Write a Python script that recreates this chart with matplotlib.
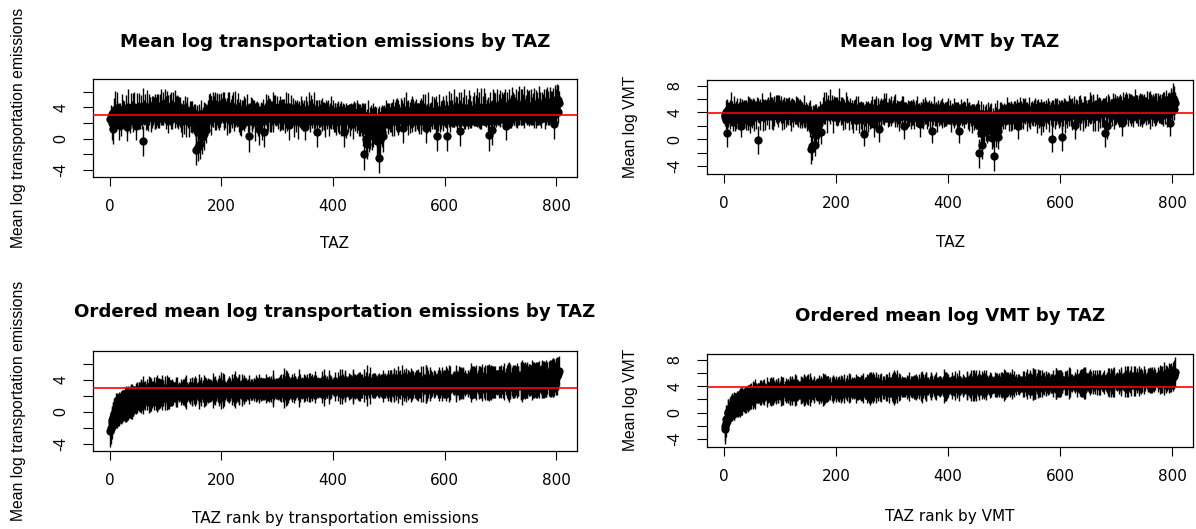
import numpy as np
import matplotlib
matplotlib.use("Agg")
import matplotlib.pyplot as plt

plt.rcParams['font.family'] = ['DejaVu Sans']

# mean log transportation emissions by TAZ (TAZ 1..805)
emis_mean = np.array("""
2.5 2.7 3.2 2.0 2.9 1.3 3.4 2.5 3.7 3.0 2.2 3.3 3.9 2.6 3.1 1.7 3.6 2.8 1.9 3.2 3.5 2.7 3.8 3.0 2.5
3.4 2.6 3.7 2.9 2.3 1.5 3.2 4.0 2.8 3.5 2.4 3.1 3.8 2.7 3.3 3.6 2.2 3.0 4.1 2.8 3.4 1.6 3.2 3.7 2.9
3.6 2.9 4.0 2.5 3.3 3.7 2.7 3.1 4.2 -0.3 3.4 2.8 3.8 2.4 3.5 3.0 4.1 3.2 2.6 3.7 3.3 3.9 2.8 3.4 3.1
3.8 3.1 3.6 4.3 2.7 3.5 4.0 3.2 3.7 2.9 4.2 3.4 2.6 3.9 3.3 3.6 4.1 3.0 3.5 3.8 2.8 3.7 4.4 3.2 3.4
3.5 3.9 3.0 2.4 3.7 3.3 4.1 2.8 3.6 3.8 3.1 2.7 4.0 3.4 3.2 4.2 2.9 3.5 3.7 2.6 3.9 3.3 3.0 3.8 3.4
3.2 2.6 3.5 2.8 2.3 3.7 3.1 2.5 3.4 3.8 2.9 2.4 3.3 3.6 2.7 3.0 2.1 3.4 3.2 2.5 2.8 3.6 2.2 2.9 2.4
2.8 2.2 3.1 1.3 -1.4 2.6 1.0 -1.0 2.9 2.0 0.7 -0.7 2.4 3.2 0.2 1.8 2.7 0.6 3.0 1.4 3.3 2.5 1.1 2.2 3.1
3.1 3.6 2.7 3.9 3.4 3.0 4.2 3.3 2.6 3.7 4.0 3.2 3.5 4.4 2.9 3.6 3.8 3.1 2.5 4.1 3.4 3.7 3.0 3.9 3.3
3.7 3.2 4.0 2.8 3.5 4.2 3.1 3.6 2.7 3.8 3.4 4.1 2.9 3.3 3.7 2.4 3.9 3.5 3.0 3.6 4.0 3.2 2.6 3.4 3.8
2.9 3.4 2.5 3.7 3.1 2.3 3.6 2.8 3.3 2.0 3.5 3.0 2.7 3.8 3.2 2.4 2.9 3.4 2.6 3.7 3.1 2.2 3.3 2.8 0.3
3.2 2.7 3.5 2.3 3.0 3.6 2.5 3.3 2.8 2.1 3.4 2.9 2.6 3.7 3.1 2.4 3.2 1.2 2.8 3.5 2.7 3.3 2.2 3.0 3.6
2.9 0.9 3.4 3.7 3.1 2.6 3.9 3.3 2.8 3.6 4.1 3.0 3.5 2.7 3.8 3.2 3.4 2.5 4.0 3.1 3.7 2.9 3.3 3.8 3.0
3.4 2.8 3.7 3.2 2.5 3.6 3.0 3.9 2.7 3.3 3.1 3.8 2.4 3.5 2.9 3.7 3.2 2.6 3.4 4.0 1.8 3.3 3.0 2.7 3.5
3.1 2.6 3.5 2.9 2.3 3.3 3.7 2.8 2.5 3.4 3.0 2.2 3.6 3.2 2.7 2.9 3.4 2.4 3.1 3.7 2.8 2.6 3.3 3.0 1.5
3.2 3.6 2.7 3.3 2.9 3.8 3.1 2.5 3.5 3.0 3.7 2.6 3.4 3.2 2.8 3.6 2.9 2.4 3.3 3.1 0.8 3.5 2.8 3.2 3.7
3.0 2.5 3.4 2.8 3.2 2.3 3.6 2.9 2.7 3.3 2.4 3.1 3.5 2.6 3.0 3.7 2.8 2.2 3.2 2.9 2.5 3.4 3.1 2.7 3.3
2.9 2.4 3.2 2.7 3.0 2.1 3.4 2.8 2.5 3.1 2.3 3.3 2.9 2.6 3.2 2.7 3.5 2.4 0.9 3.0 2.8 2.5 3.3 2.2 3.1
3.0 2.6 3.3 2.8 2.4 3.2 2.7 3.5 2.9 2.3 3.1 3.4 2.5 2.8 3.2 2.6 3.0 2.2 3.3 2.7 2.9 2.4 3.1 2.0 2.6
2.8 2.3 3.0 1.3 2.6 -2.0 1.1 2.9 0.0 2.1 -0.7 2.7 0.7 1.8 0.3 2.5 0.9 2.9 0.5 2.2 3.0 1.0 2.5 1.9 2.8
1.9 2.6 -0.3 0.8 2.3 0.2 -2.4 2.8 1.1 -0.1 2.4 3.0 0.9 0.4 2.7 2.1 3.1 2.4 2.8 3.2 2.7 3.1 2.5 3.3 2.9
2.9 2.4 3.2 2.7 3.4 2.5 3.0 3.6 2.3 2.8 3.3 2.6 3.1 2.2 3.5 2.9 2.7 3.2 2.4 3.0 3.4 2.6 2.8 3.3 1.4
3.1 2.6 3.4 2.8 3.7 2.5 3.2 2.9 2.3 3.5 3.0 2.7 3.3 3.6 2.4 3.1 2.8 3.4 2.6 3.2 2.9 2.2 3.5 3.0 2.7
3.3 2.8 3.5 2.6 3.2 3.7 2.9 2.5 3.4 3.1 3.8 2.7 3.0 3.6 3.3 1.4 2.9 3.4 2.4 3.2 3.7 2.8 3.1 2.6 3.5
3.1 2.7 3.4 2.9 3.6 2.5 3.2 2.8 3.3 3.0 0.3 3.5 2.6 3.1 3.7 2.8 2.4 3.3 3.0 3.6 2.7 3.2 2.9 3.4 2.8
3.2 3.6 2.7 0.3 3.3 2.9 3.8 3.1 2.6 3.5 3.0 3.7 2.8 3.3 2.5 3.4 3.9 3.0 3.2 2.7 3.6 2.9 3.3 3.1 3.7
3.0 1.0 3.4 2.8 3.7 3.2 2.6 3.5 2.9 3.8 3.1 2.7 3.3 3.6 3.0 2.5 3.4 3.9 2.8 3.2 3.5 2.7 3.3 3.0 3.6
3.4 3.0 3.8 3.2 2.7 3.6 3.3 4.0 2.9 3.5 3.1 3.7 2.6 3.4 3.9 3.2 2.8 3.6 3.3 4.1 3.0 3.5 3.7 2.9 3.4
3.6 3.1 3.7 3.3 0.5 3.9 3.4 3.0 1.1 3.5 4.0 3.2 3.7 2.8 3.4 3.8 3.1 3.6 4.1 3.3 2.9 3.7 3.5 3.9 3.2
3.6 4.0 3.3 3.7 3.1 3.8 3.5 4.2 3.0 1.6 3.4 3.9 3.6 3.2 4.1 3.7 3.3 3.8 3.5 4.3 3.1 3.6 4.0 3.4 3.7
3.8 3.4 4.1 3.6 3.2 3.9 3.7 4.3 3.3 3.6 4.0 3.5 4.2 3.1 3.7 3.9 3.4 4.4 3.6 3.8 3.3 4.1 3.5 4.0 3.7
3.6 3.9 3.3 3.7 4.1 3.2 3.5 3.8 3.4 4.2 3.0 3.6 4.0 3.3 3.7 3.9 3.1 3.5 4.3 3.4 3.8 3.6 3.2 4.0 3.7
3.9 3.5 4.2 3.7 3.3 4.0 3.6 4.4 3.4 3.8 4.1 3.5 3.7 4.3 3.2 3.9 3.6 4.0 3.4 4.2 1.9 3.7 4.5 3.8 4.1
5.1 4.8 3.4 5.0 4.6
""".split(), dtype=float)

# half-length of each TAZ's error bar (emissions)
emis_ci = np.array("""
1.2 1.6 0.9 2.1 1.3 2.0 1.8 1.1 2.4 1.4 0.9 1.5 2.0 1.1 1.3 1.9 1.0 1.7 1.5 0.9 2.2 1.4 1.1 1.6 1.3
1.4 1.0 1.9 1.2 1.6 1.8 1.1 2.3 1.3 0.9 1.7 1.2 2.0 1.0 1.5 2.2 1.3 1.1 1.8 1.4 1.0 1.7 1.2 2.1 1.3
1.1 1.7 1.8 1.3 1.0 1.9 1.4 1.2 2.3 1.9 1.5 1.1 1.9 1.3 1.0 1.8 2.1 1.2 1.6 2.0 1.1 1.4 1.9 1.2 1.7
1.6 1.2 1.9 1.0 1.4 2.2 1.3 1.8 2.0 1.1 1.5 2.0 1.2 1.8 1.0 1.7 2.3 1.3 1.5 2.1 1.1 1.4 1.9 1.2 2.1
1.3 2.2 1.1 1.7 1.9 1.2 1.6 1.0 2.3 1.4 1.8 1.1 2.0 1.3 1.0 2.0 1.5 1.2 1.8 1.1 1.7 2.1 1.3 1.5 1.9
1.2 1.8 1.0 1.5 2.1 1.3 1.1 1.9 1.4 1.6 1.0 2.2 1.2 1.7 1.3 1.0 1.9 1.4 1.1 1.6 2.0 1.2 1.5 1.3 1.8
1.6 1.9 1.3 2.2 2.0 1.7 2.3 1.8 1.5 2.0 2.1 1.9 1.4 1.8 2.2 1.6 1.3 2.0 1.7 1.5 1.2 1.9 1.6 1.4 1.8
1.4 2.1 1.2 1.9 1.0 2.5 1.3 1.7 1.1 2.2 1.5 1.0 2.4 1.3 1.8 1.2 2.0 1.4 1.1 1.6 2.3 1.2 1.5 1.9 1.3
1.5 1.1 2.0 1.3 2.4 1.0 1.7 1.2 2.2 1.4 1.1 1.8 1.3 2.6 1.0 1.6 1.2 2.1 1.4 1.0 1.9 1.3 1.6 1.1 2.3
1.2 1.7 1.0 2.1 1.3 1.5 1.1 2.3 1.2 1.6 1.0 1.9 1.4 1.2 2.2 1.1 1.5 1.8 1.0 2.0 1.3 1.4 1.1 1.7 2.0
1.3 1.0 1.8 1.2 2.2 1.4 1.1 1.6 1.0 2.4 1.3 1.2 1.9 1.1 1.5 2.1 1.0 2.0 1.4 1.2 1.7 1.0 2.3 1.3 1.5
1.4 1.9 1.1 2.0 1.3 1.6 1.0 2.3 1.2 1.5 1.1 2.1 1.3 1.8 1.0 1.4 2.5 1.2 1.6 1.1 1.9 1.3 1.0 1.7 1.2
1.1 1.6 1.3 2.2 1.0 1.4 1.9 1.2 1.5 1.1 2.0 1.3 1.7 1.0 1.4 2.3 1.2 1.6 1.1 1.8 1.9 1.0 1.5 1.3 2.1
1.3 1.1 1.7 1.0 2.1 1.4 1.2 1.9 1.1 1.5 1.3 2.2 1.0 1.6 1.2 1.4 2.0 1.1 1.5 1.3 1.8 1.0 1.6 1.2 1.7
1.2 1.8 1.0 1.5 1.3 2.1 1.1 1.6 1.4 1.0 1.9 1.2 1.7 1.3 1.1 2.3 1.4 1.0 1.6 1.2 1.9 1.5 1.1 1.8 1.3
1.4 1.0 1.6 1.2 2.0 1.3 1.1 1.8 1.4 1.0 2.2 1.3 1.5 1.1 1.7 1.2 1.0 1.9 1.3 1.5 1.1 2.1 1.2 1.4 1.6
1.1 1.5 1.3 1.9 1.0 1.6 1.2 2.0 1.4 1.1 1.7 1.3 1.0 2.2 1.2 1.5 1.1 1.8 1.9 1.4 1.0 1.6 1.3 2.1 1.2
1.3 1.7 1.1 1.4 2.0 1.2 1.6 1.0 1.5 2.3 1.2 1.4 1.1 1.8 1.3 1.0 1.9 1.5 1.2 1.6 1.1 2.0 1.3 1.7 1.4
1.7 2.0 1.5 2.2 1.8 2.0 2.1 1.6 1.9 1.7 1.9 2.3 1.8 1.5 2.0 1.6 2.2 1.4 1.9 1.7 1.5 2.1 1.6 1.8 1.4
1.8 1.5 2.1 1.9 1.6 2.2 2.0 1.4 1.7 2.0 1.6 1.3 1.9 2.1 1.5 1.8 1.2 1.6 1.4 1.7 1.3 1.5 1.9 1.2 1.6
1.2 1.6 1.0 1.8 1.3 2.1 1.1 1.5 1.9 1.2 1.4 1.0 2.0 1.3 1.7 1.1 2.2 1.2 1.5 1.0 1.8 1.4 1.1 1.6 1.9
1.4 1.1 1.9 1.3 2.2 1.0 1.6 1.2 1.8 1.4 1.1 2.0 1.3 1.5 1.0 2.3 1.2 1.7 1.1 1.4 1.9 1.2 1.6 1.0 1.5
1.3 1.8 1.1 2.0 1.4 1.2 2.3 1.0 1.6 1.3 1.9 1.1 1.5 2.1 1.2 1.9 1.4 1.0 1.7 1.3 2.2 1.1 1.5 1.8 1.2
1.5 1.2 2.1 1.0 1.7 1.3 1.9 1.1 1.4 2.4 1.9 1.2 1.6 1.0 2.0 1.3 1.5 1.1 1.8 1.4 1.0 2.2 1.2 1.6 1.3
1.1 2.0 1.3 1.8 1.5 1.0 2.3 1.2 1.7 1.4 1.1 2.1 1.3 1.6 1.0 1.9 2.4 1.2 1.5 1.1 1.8 1.3 2.0 1.4 2.2
1.3 1.9 1.6 1.1 2.2 1.4 1.0 1.8 1.2 2.5 1.3 1.5 1.1 2.0 1.4 1.2 1.7 2.3 1.0 1.6 2.1 1.3 1.5 1.2 1.9
1.5 1.2 2.2 1.4 1.1 2.0 1.6 2.5 1.3 1.8 1.0 2.3 1.4 1.2 2.6 1.5 1.1 1.9 1.3 2.4 1.2 1.7 2.1 1.4 1.6
1.4 2.1 1.6 1.2 2.0 2.1 1.3 1.8 1.9 1.5 2.3 1.2 2.2 1.4 1.1 2.0 1.6 1.3 2.2 1.5 1.2 2.0 1.4 2.3 1.7
1.6 2.0 1.3 2.0 1.5 2.2 1.2 2.2 1.4 1.7 1.8 2.1 1.3 1.6 2.3 1.4 1.9 1.2 2.1 2.3 1.5 1.3 2.0 1.6 2.0
1.5 1.9 2.2 1.3 1.8 2.2 1.4 2.4 1.6 1.2 2.3 1.7 2.1 1.4 2.0 1.3 2.0 2.3 1.5 1.8 1.2 2.3 1.6 2.1 1.4
1.7 2.3 1.4 2.0 2.2 1.3 1.8 2.0 1.5 2.3 1.6 1.4 2.2 1.9 1.5 2.1 1.3 1.7 2.4 1.6 2.1 1.4 1.8 2.0 1.5
1.8 1.4 2.1 1.6 2.0 2.3 1.5 2.2 1.3 2.1 2.0 1.7 1.5 2.3 1.4 2.2 1.8 2.1 1.6 2.3 1.9 1.5 2.4 1.7 2.2
1.9 2.1 1.4 1.8 1.5
""".split(), dtype=float)

# mean log VMT by TAZ
vmt_mean = np.array("""
3.3 3.6 4.1 2.9 3.8 0.9 4.3 3.4 4.6 3.9 3.1 4.2 4.8 3.5 4.0 2.6 4.5 3.7 2.8 4.1 4.4 3.6 4.7 3.9 3.4
4.3 3.5 4.6 3.8 3.2 1.9 4.1 4.9 3.7 4.4 3.3 4.0 4.7 3.6 4.2 4.5 3.1 3.9 5.0 3.7 4.3 2.5 4.1 4.6 3.8
4.5 3.8 4.9 3.4 4.2 4.6 3.6 4.0 5.1 -0.1 4.3 3.7 4.7 3.3 4.4 3.9 5.0 4.1 3.5 4.6 4.2 4.8 3.7 4.3 4.0
4.7 4.0 4.5 5.2 3.6 4.4 4.9 4.1 4.6 3.8 5.1 4.3 3.5 4.8 4.2 4.5 5.0 3.9 4.4 4.7 3.7 4.6 5.3 4.1 4.3
4.4 4.8 3.9 3.3 4.6 4.2 5.0 3.7 4.5 4.7 4.0 3.6 4.9 4.3 4.1 5.1 3.8 4.4 4.6 3.5 4.8 4.2 3.9 4.7 4.3
4.1 3.5 4.4 3.7 3.2 4.6 4.0 3.4 4.3 4.7 3.8 3.3 4.2 4.5 3.6 3.9 3.0 4.3 4.1 3.4 3.7 4.5 3.1 3.8 3.3
3.6 3.0 3.9 2.1 -1.5 3.4 1.6 -1.0 3.7 2.8 1.3 -0.9 3.2 4.0 0.6 2.6 3.5 1.2 3.8 2.2 4.1 3.3 1.1 3.0 3.9
4.0 4.5 3.6 4.8 4.3 3.9 5.1 4.2 3.5 4.6 4.9 4.1 4.4 5.3 3.8 4.5 4.7 4.0 3.4 5.0 4.3 4.6 3.9 4.8 4.2
4.6 4.1 4.9 3.7 4.4 5.1 4.0 4.5 3.6 4.7 4.3 5.0 3.8 4.2 4.6 3.3 4.8 4.4 3.9 4.5 4.9 4.1 3.5 4.3 4.7
3.8 4.3 3.4 4.6 4.0 3.2 4.5 3.7 4.2 2.9 4.4 3.9 3.6 4.7 4.1 3.3 3.8 4.3 3.5 4.6 4.0 3.1 4.2 3.7 0.8
4.1 3.6 4.4 3.2 3.9 4.5 3.4 4.2 3.7 3.0 4.3 3.8 3.5 4.6 4.0 3.3 4.1 2.2 3.7 4.4 3.6 4.2 3.1 3.9 4.5
3.8 1.5 4.3 4.6 4.0 3.5 4.8 4.2 3.7 4.5 5.0 3.9 4.4 3.6 4.7 4.1 4.3 3.4 4.9 4.0 4.6 3.8 4.2 4.7 3.9
4.3 3.7 4.6 4.1 3.4 4.5 3.9 4.8 3.6 4.2 4.0 4.7 3.3 4.4 3.8 4.6 4.1 3.5 4.3 4.9 1.9 4.2 3.9 3.6 4.4
4.0 3.5 4.4 3.8 3.2 4.2 4.6 3.7 3.4 4.3 3.9 3.1 4.5 4.1 3.6 3.8 4.3 3.3 4.0 4.6 3.7 3.5 4.2 3.9 2.3
4.1 4.5 3.6 4.2 3.8 4.7 4.0 3.4 4.4 3.9 4.6 3.5 4.3 4.1 3.7 4.5 3.8 3.3 4.2 4.0 1.3 4.4 3.7 4.1 4.6
3.9 3.4 4.3 3.7 4.1 3.2 4.5 3.8 3.6 4.2 3.3 4.0 4.4 3.5 3.9 4.6 3.7 3.1 4.1 3.8 3.4 4.3 4.0 3.6 4.2
3.8 3.3 4.1 3.6 3.9 3.0 4.3 3.7 3.4 4.0 3.2 4.2 3.8 3.5 4.1 3.6 4.4 3.3 1.3 3.9 3.7 3.4 4.2 3.1 4.0
3.9 3.5 4.2 3.7 3.3 4.1 3.6 4.4 3.8 3.2 4.0 4.3 3.4 3.7 4.1 3.5 3.9 3.1 4.2 3.6 3.8 3.3 4.0 2.9 3.5
3.6 3.1 3.8 2.1 3.4 -2.1 1.9 3.7 0.9 2.9 -0.9 3.5 1.5 2.6 1.1 3.3 1.7 3.7 1.3 3.0 3.8 1.8 3.3 2.7 3.6
2.7 3.4 0.2 1.6 3.1 1.0 -2.5 3.6 1.9 0.7 3.2 3.8 1.7 1.2 0.4 2.9 3.9 3.2 3.6 4.0 3.5 3.9 3.3 4.2 3.8
3.8 3.3 4.1 3.6 4.3 3.4 3.9 4.5 3.2 3.7 4.2 3.5 4.0 3.1 4.4 3.8 3.6 4.1 3.3 3.9 4.3 3.5 3.7 4.2 1.9
4.0 3.5 4.3 3.7 4.6 3.4 4.1 3.8 3.2 4.4 3.9 3.6 4.2 4.5 3.3 4.0 3.7 4.3 3.5 4.1 3.8 3.1 4.4 3.9 3.6
4.2 3.7 4.4 3.5 4.1 4.6 3.8 3.4 4.3 4.0 4.7 3.6 3.9 4.5 4.2 2.5 3.8 4.3 3.3 4.1 4.6 3.7 4.0 3.5 4.4
4.0 3.6 4.3 3.8 4.5 3.4 4.1 3.7 4.2 3.9 0.1 4.4 3.5 4.0 4.6 3.7 3.3 4.2 3.9 4.5 3.6 4.1 3.8 4.3 3.7
4.1 4.5 3.6 0.3 4.2 3.8 4.7 4.0 3.5 4.4 3.9 4.6 3.7 4.2 3.4 4.3 4.8 3.9 4.1 3.6 4.5 3.8 4.2 4.0 4.6
3.9 2.1 4.3 3.7 4.6 4.1 3.5 4.4 3.8 4.7 4.0 3.6 4.2 4.5 3.9 3.4 4.3 4.8 3.7 4.1 4.4 3.6 4.2 3.9 4.5
4.3 3.9 4.7 4.1 3.6 4.5 4.2 4.9 3.8 4.4 4.0 4.6 3.5 4.3 4.8 4.1 3.7 4.5 4.2 5.0 3.9 4.4 4.6 3.8 4.3
4.5 4.0 4.6 4.2 0.9 4.8 4.3 3.9 2.0 4.4 4.9 4.1 4.6 3.7 4.3 4.7 4.0 4.5 5.0 4.2 3.8 4.6 4.4 4.8 4.1
4.5 4.9 4.2 4.6 4.0 4.7 4.4 5.1 3.9 2.4 4.3 4.8 4.5 4.1 5.0 4.6 4.2 4.7 4.4 5.2 4.0 4.5 4.9 4.3 4.6
4.7 4.3 5.0 4.5 4.1 4.8 4.6 5.2 4.2 4.5 4.9 4.4 5.1 4.0 4.6 4.8 4.3 5.3 4.5 4.7 4.2 5.0 4.4 4.9 4.6
4.5 4.8 4.2 4.6 5.0 4.1 4.4 4.7 4.3 5.1 3.9 4.5 4.9 4.2 4.6 4.8 4.0 4.4 5.2 4.3 4.7 4.5 4.1 4.9 4.6
4.8 4.4 5.1 4.6 4.2 4.9 4.5 5.3 4.3 4.7 5.0 4.4 4.6 5.2 4.1 4.8 4.5 4.9 4.3 5.1 2.4 4.6 5.4 4.7 5.0
6.1 5.6 4.5 5.9 5.4
""".split(), dtype=float)

# half-length of each TAZ's error bar (VMT)
vmt_ci = np.array("""
1.4 1.1 1.8 1.3 2.2 2.1 1.2 1.6 1.0 1.9 1.5 1.2 2.3 1.1 1.7 1.4 2.0 1.0 1.6 1.3 1.2 2.1 1.5 1.1 1.8
1.2 1.9 1.4 2.4 1.0 1.6 1.3 1.1 2.0 1.5 1.2 1.8 1.0 2.2 1.4 1.1 1.7 2.5 1.3 1.0 1.9 1.6 1.2 1.4 2.1
1.6 1.3 1.1 2.2 1.5 1.0 2.0 1.4 1.2 2.1 1.8 1.3 1.0 1.9 1.6 1.2 1.9 1.1 2.2 1.4 1.7 1.0 2.3 1.5 1.2
1.3 1.9 1.6 1.1 2.0 1.4 2.1 1.0 1.7 2.3 1.2 1.5 2.1 1.3 2.3 1.1 1.6 1.4 2.2 1.0 1.9 2.0 1.3 1.5 1.2
2.0 1.2 1.6 1.9 1.1 1.8 1.3 2.1 1.0 1.5 2.2 1.4 1.1 1.9 2.0 1.2 1.7 1.0 1.4 2.3 1.3 1.6 2.1 1.1 1.5
1.5 1.2 2.0 1.4 1.1 1.7 2.2 1.0 1.6 1.3 2.1 1.2 1.5 1.0 1.9 1.4 1.2 2.3 1.0 1.7 1.3 1.1 1.8 1.5 1.2
1.9 1.5 2.0 1.7 2.2 1.6 1.8 2.1 1.4 2.2 1.9 1.6 2.0 1.3 1.8 2.1 1.5 1.7 1.2 2.0 1.6 1.4 1.8 1.9 1.3
1.2 1.8 1.4 2.3 1.1 1.6 2.0 1.3 2.5 1.0 1.7 1.4 1.2 2.2 1.5 1.1 1.9 1.3 2.4 1.0 1.6 1.8 1.2 1.5 2.1
1.4 2.2 1.0 1.6 1.3 2.5 1.1 1.8 1.5 1.2 2.0 1.0 2.4 1.4 1.2 1.7 2.3 1.1 1.5 1.9 1.0 1.6 2.1 1.3 1.4
1.6 1.1 1.9 1.3 1.0 2.2 1.4 1.2 1.8 1.5 2.0 1.1 1.3 1.7 1.0 2.3 1.4 1.2 1.9 1.1 1.6 2.0 1.3 1.5 1.8
1.1 1.7 1.3 2.0 1.5 1.0 2.3 1.2 1.6 1.4 1.1 2.1 1.3 1.8 1.0 1.5 1.9 1.8 1.2 1.6 1.0 2.2 1.4 1.1 1.7
1.3 1.9 1.6 1.1 2.1 1.4 1.0 1.8 1.5 2.4 1.2 1.3 1.7 1.0 2.2 1.5 1.1 1.6 1.3 2.0 1.2 1.4 2.3 1.1 1.5
1.5 1.2 1.9 1.0 1.6 2.2 1.3 1.1 1.8 1.4 1.7 1.0 2.1 1.3 1.5 1.2 2.4 1.4 1.1 1.6 1.8 1.3 1.0 1.9 1.2
1.2 1.6 1.0 2.0 1.3 1.5 1.1 2.2 1.4 1.2 1.8 1.0 1.5 1.3 2.1 1.1 1.6 1.4 1.0 1.9 1.3 1.7 1.2 1.5 1.9
1.4 1.0 1.7 1.2 2.2 1.3 1.5 1.1 1.9 1.6 1.2 2.0 1.0 1.4 1.8 1.3 1.1 2.1 1.5 1.2 1.8 1.0 1.6 1.3 1.9
1.1 1.5 1.3 1.8 1.0 2.1 1.4 1.2 1.7 1.3 1.0 1.9 1.5 1.2 2.2 1.0 1.6 1.3 1.1 1.8 1.4 1.2 1.7 1.0 2.0
1.3 1.0 1.8 1.4 1.2 1.9 1.1 1.6 1.3 2.1 1.5 1.0 1.7 1.2 1.4 2.0 1.1 1.5 1.9 1.3 1.6 1.0 1.8 1.2 1.4
1.6 1.2 1.4 2.0 1.1 1.5 1.3 1.8 1.0 1.7 1.4 1.2 2.1 1.3 1.0 1.6 1.4 2.2 1.1 1.5 1.3 1.9 1.0 1.4 1.7
1.8 1.5 2.1 1.7 1.9 2.2 1.6 2.0 1.8 1.5 2.0 1.7 2.2 1.4 1.9 1.6 2.0 1.5 1.8 1.3 1.7 2.1 1.5 1.9 1.6
1.7 2.0 1.6 1.9 1.5 2.1 2.2 1.8 1.4 1.9 1.6 2.0 1.3 1.8 1.9 1.5 1.7 1.4 2.0 1.3 1.6 1.4 1.8 1.2 1.5
1.3 1.8 1.1 1.5 2.0 1.2 1.6 1.0 1.9 1.4 1.2 2.2 1.3 1.7 1.0 1.5 2.1 1.2 1.4 1.8 1.1 1.6 2.3 1.3 1.9
1.5 1.2 2.0 1.4 1.1 1.8 1.3 2.3 1.0 1.6 1.4 1.2 1.9 1.1 2.1 1.5 1.3 1.0 1.7 2.2 1.2 1.5 1.1 1.8 1.4
1.2 1.7 1.4 1.0 2.1 1.3 1.5 2.4 1.1 1.6 1.3 1.9 1.2 1.0 1.8 1.9 1.5 1.2 2.2 1.4 1.1 1.7 1.3 2.0 1.5
1.4 1.1 1.8 1.5 1.2 2.3 1.0 1.6 1.3 2.0 2.0 1.4 1.7 1.1 1.5 2.2 1.2 1.8 1.0 1.6 1.4 1.2 2.1 1.3 1.7
1.6 1.3 2.2 2.1 1.2 1.8 1.4 1.1 2.5 1.3 1.7 1.0 2.0 1.5 1.2 2.3 1.4 1.1 1.9 1.6 1.3 2.4 1.2 1.5 1.8
1.2 2.0 1.5 2.3 1.1 1.7 1.4 2.0 1.3 1.6 2.6 1.2 1.8 1.0 1.5 2.2 1.3 1.7 1.1 2.4 1.4 1.6 1.2 1.9 1.3
1.7 1.3 2.4 1.5 1.2 2.1 1.4 1.8 2.6 1.3 1.6 1.1 2.3 1.5 1.9 1.2 2.5 1.4 1.7 1.3 2.2 1.5 1.1 2.0 1.6
1.5 2.2 1.3 1.9 2.0 1.4 2.1 1.6 2.0 1.2 1.8 2.4 1.4 2.0 1.7 1.3 2.0 1.5 1.9 1.2 2.3 1.6 2.3 1.4 1.8
2.0 1.5 2.0 1.3 2.2 1.7 2.4 1.4 1.9 1.9 1.6 2.3 1.5 2.2 1.3 2.1 1.8 2.4 1.4 1.6 2.1 1.5 2.0 1.3 2.2
1.6 2.4 1.4 2.1 2.3 1.5 1.9 2.3 1.3 2.1 1.7 2.0 1.5 2.0 1.4 1.8 2.4 1.6 2.2 1.4 2.4 1.7 2.1 1.5 2.2
1.8 1.5 2.1 1.4 2.2 1.9 1.6 2.3 1.5 2.1 2.4 1.3 1.9 2.2 1.6 2.0 1.4 2.0 1.7 2.3 1.5 2.4 1.6 2.0 1.8
1.7 2.0 1.5 2.2 1.9 1.4 2.2 1.8 2.3 1.6 2.0 2.1 1.5 2.1 2.3 1.7 2.4 1.6 2.2 1.9 1.9 2.3 2.2 1.8 2.1
2.3 2.0 1.6 2.1 1.7
""".split(), dtype=float)

emis_ref = 3.0   # red reference line, emissions panels
vmt_ref = 3.85   # red reference line, VMT panels

assert len(emis_mean) == len(emis_ci) == len(vmt_mean) == len(vmt_ci), \
    (len(emis_mean), len(emis_ci), len(vmt_mean), len(vmt_ci))

taz = np.arange(1, len(emis_mean) + 1)
rank = np.arange(1, len(emis_mean) + 1)
emis_order = np.argsort(emis_mean, kind='stable')
vmt_order = np.argsort(vmt_mean, kind='stable')

W, H = 1196, 529
fig = plt.figure(figsize=(W / 100, H / 100), dpi=100)

VFONT = ['Liberation Sans', 'DejaVu Sans']


def panel(left, top, right, bottom):
    return fig.add_axes([left / W, 1 - bottom / H, (right - left) / W, (bottom - top) / H])


def ci_plot(ax, x, mean, half, ref, ylim, yticks):
    ax.vlines(x, mean - half, mean + half, colors='black', linewidth=1.0, zorder=2)
    ax.plot(x, mean, 'o', color='black', markersize=6, markeredgewidth=0, zorder=3)
    ax.axhline(ref, color='red', linewidth=1.2, zorder=4)
    ax.set_xlim(-31.2, 837.2)
    ax.set_ylim(*ylim)
    ax.set_xticks(range(0, 801, 200))
    ax.set_yticks(yticks)
    ax.set_yticklabels([str(t) if t % 4 == 0 else '' for t in yticks],
                       rotation=90, va='center', family=VFONT, fontsize=11.3)
    for lab in ax.get_xticklabels():
        lab.set_fontsize(11)
    ax.tick_params(axis='x', length=6.7, width=0.8, pad=9)
    ax.tick_params(axis='y', length=7.2, width=0.8, pad=10)
    for s in ax.spines.values():
        s.set_linewidth(0.9)
        s.set_color('black')


def put(x, y, s, **kw):
    fig.text(x / W, 1 - y / H, s, ha='center', va='center', **kw)


emis_ylim = (-4.88, 7.62)
vmt_ylim = (-5.2, 8.85)
emis_ticks = [-4, -2, 0, 2, 4, 6]
vmt_ticks = [-4, -2, 0, 2, 4, 6, 8]

ax1 = panel(92.5, 79, 577, 177)
ci_plot(ax1, taz, emis_mean, emis_ci, emis_ref, emis_ylim, emis_ticks)
ax2 = panel(706.5, 80, 1193, 174)
ci_plot(ax2, taz, vmt_mean, vmt_ci, vmt_ref, vmt_ylim, vmt_ticks)
ax3 = panel(92.5, 351, 577, 451)
ci_plot(ax3, rank, emis_mean[emis_order], emis_ci[emis_order], emis_ref, emis_ylim, emis_ticks)
ax4 = panel(706.5, 354, 1193, 447)
ci_plot(ax4, rank, vmt_mean[vmt_order], vmt_ci[vmt_order], vmt_ref, vmt_ylim, vmt_ticks)

# titles
put(335, 42, 'Mean log transportation emissions by TAZ', fontsize=13.1, fontweight='bold')
put(950, 42, 'Mean log VMT by TAZ', fontsize=13.1, fontweight='bold')
put(335, 312, 'Ordered mean log transportation emissions by TAZ', fontsize=13.1, fontweight='bold')
put(950, 316, 'Ordered mean log VMT by TAZ', fontsize=13.1, fontweight='bold')

# x labels
put(335, 244, 'TAZ', fontsize=11)
put(950, 243, 'TAZ', fontsize=11)
put(335, 518, 'TAZ rank by transportation emissions', fontsize=11)
put(950, 517, 'TAZ rank by VMT', fontsize=11)

# y labels
put(19, 128, 'Mean log transportation emissions', rotation=90, family=VFONT, fontsize=11.35)
put(631, 127, 'Mean log VMT', rotation=90, family=VFONT, fontsize=11.35)
put(19, 401, 'Mean log transportation emissions', rotation=90, family=VFONT, fontsize=11.35)
put(631, 400, 'Mean log VMT', rotation=90, family=VFONT, fontsize=11.35)

fig.savefig('out.png', dpi=100)
